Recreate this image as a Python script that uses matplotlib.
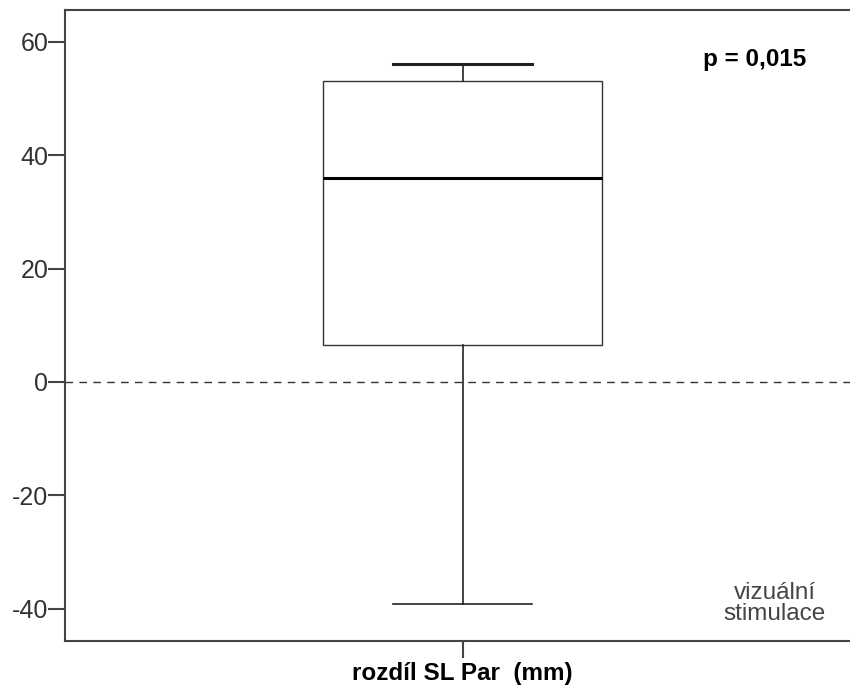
import matplotlib
matplotlib.use("Agg")
import matplotlib.pyplot as plt

plt.rcParams['font.family'] = ['Liberation Sans', 'DejaVu Sans']

# Five-number summary of the difference (mm)
category = "rozdíl SL Par  (mm)"
whisker_low = -39.2
q1 = 6.5
median = 36.0
q3 = 53.1
whisker_high = 56.1
yticks = [-40, -20, 0, 20, 40, 60]
p_text = "p = 0,015"
group_note = "vizuální\nstimulace"

fig = plt.figure(figsize=(8.5, 6.9), dpi=100)
ax = fig.add_axes([65 / 850, 1 - 641 / 690, 795 / 850, 631 / 690])

stats = [{
    "whislo": whisker_low, "q1": q1, "med": median, "q3": q3,
    "whishi": whisker_high, "fliers": [], "label": category,
}]
dark = "#222222"
bp = ax.bxp(stats, positions=[1], widths=0.702, capwidths=0.35,
            patch_artist=True, showfliers=False,
            boxprops=dict(facecolor="white", edgecolor="#333333", linewidth=1.0),
            medianprops=dict(color="black", linewidth=2.2),
            whiskerprops=dict(color=dark, linewidth=1.2),
            capprops=dict(color=dark, linewidth=1.2))
bp['caps'][1].set_linewidth(2.2)

ax.axhline(0, color="#333333", linewidth=1.0, linestyle=(0, (5.5, 4.5)), zorder=1)

ax.set_xlim(0, 2)
ax.set_ylim(-45.7, 65.6)
ax.set_yticks(yticks)
ax.set_yticklabels([str(v) for v in yticks], fontsize=18, color="#333333")
ax.set_xticks([1])
ax.set_xticklabels([category], fontsize=17.5, fontweight="bold", color="black")

ax.tick_params(axis="y", direction="out", length=12, width=1.5, color="#444444", pad=0)
ax.tick_params(axis="x", direction="out", length=12, width=1.5, color="#444444", pad=3)

for side in ["left", "bottom", "top"]:
    ax.spines[side].set_color("#444444")
    ax.spines[side].set_linewidth(1.5)
ax.spines["right"].set_visible(False)

ax.text(0.868, 0.921, p_text, transform=ax.transAxes, ha="center", va="center",
        fontsize=17.5, fontweight="bold", color="black")
ax.text(0.893, 0.059, group_note, transform=ax.transAxes, ha="center", va="center",
        fontsize=17.5, color="#444444", linespacing=0.95)

fig.savefig("out.png", dpi=100)
